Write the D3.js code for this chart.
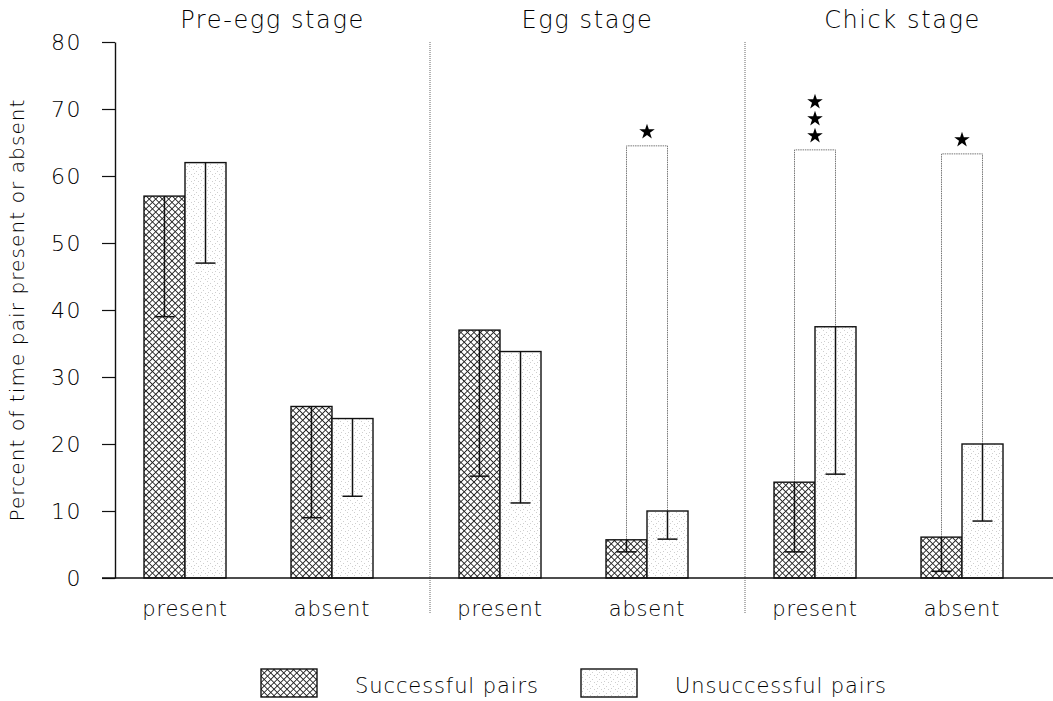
<!DOCTYPE html>
<html>
<head>
<meta charset="utf-8">
<script src="https://cdn.jsdelivr.net/npm/d3@7"></script>
<style>
  body { margin: 0; background: #fff; }
  text { font-family: "DejaVu Sans", sans-serif; font-weight: 200; fill: #000; }
</style>
</head>
<body>
<div id="plot"></div>
<script>
// data
var stages = ["Pre-egg stage", "Egg stage", "Chick stage"];
var conditions = ["present", "absent"];
var series = ["Successful pairs", "Unsuccessful pairs"];
// order: stage x condition (pre present, pre absent, egg present, egg absent, chick present, chick absent)
var successful      = [57, 25.6, 37, 5.7, 14.3, 6.1];
var successfulLow   = [39, 9, 15.2, 3.9, 3.9, 1];
var unsuccessful    = [62, 23.8, 33.8, 10, 37.5, 20];
var unsuccessfulLow = [47, 12.2, 11.2, 5.8, 15.5, 8.5];
var upperRange      = [null, null, null, 64.5, 63.9, 63.3];
var stars           = [0, 0, 0, 1, 3, 1];
var yTicks = [0, 10, 20, 30, 40, 50, 60, 70, 80];

var width = 1053, height = 701;

var svg = d3.select("#plot")
  .append("svg")
    .attr("width", width)
    .attr("height", height);

// patterns
var defs = svg.append("defs");
var hatch = defs.append("pattern")
    .attr("id", "hatch")
    .attr("patternUnits", "userSpaceOnUse")
    .attr("width", 4.6)
    .attr("height", 4.6)
    .attr("patternTransform", "rotate(45)");
hatch.append("rect").attr("width", 4.6).attr("height", 4.6).attr("fill", "#fff");
hatch.append("rect").attr("width", 0.9).attr("height", 4.6).attr("fill", "#222");
hatch.append("rect").attr("width", 4.6).attr("height", 0.9).attr("fill", "#222");

var stipple = defs.append("pattern")
    .attr("id", "stipple")
    .attr("patternUnits", "userSpaceOnUse")
    .attr("width", 7)
    .attr("height", 7);
stipple.append("rect").attr("width", 7).attr("height", 7).attr("fill", "#fff");
[[1, 1], [4, 3], [2, 5], [6, 6]].forEach(function(p) {
  stipple.append("rect").attr("x", p[0]).attr("y", p[1])
    .attr("width", 1).attr("height", 1).attr("fill", "#cfcfcf");
});

// scales
var y = d3.scaleLinear()
    .domain([0, 80])
    .range([578, 42]);

var stageX = d3.scaleBand()
    .domain(stages)
    .range([115, 1060]);

var condX = d3.scalePoint()
    .domain(conditions)
    .range([70, 217]);

var barW = 41;
var seriesX = d3.scaleBand()
    .domain(series)
    .range([-barW, barW]);

var fills = {"Successful pairs": "url(#hatch)", "Unsuccessful pairs": "url(#stipple)"};

// build rows
var rows = [];
stages.forEach(function(s, i) {
  conditions.forEach(function(c, j) {
    var k = i * conditions.length + j;
    rows.push({stage: s, cond: c, cx: stageX(s) + condX(c),
      values: [
        {series: series[0], v: successful[k], low: successfulLow[k]},
        {series: series[1], v: unsuccessful[k], low: unsuccessfulLow[k]}
      ],
      upper: upperRange[k], stars: stars[k]});
  });
});

// stage dividers
svg.append("g")
  .selectAll("line")
  .data(stages.slice(1))
  .enter()
  .append("line")
    .attr("x1", function(d) { return stageX(d); })
    .attr("x2", function(d) { return stageX(d); })
    .attr("y1", y(80))
    .attr("y2", 613)
    .attr("stroke", "#666")
    .attr("stroke-width", 1)
    .attr("stroke-dasharray", "1,1");

// stage titles
svg.append("g")
  .selectAll("text")
  .data(stages)
  .enter()
  .append("text")
    .attr("x", function(d) { return stageX(d) + stageX.bandwidth() / 2; })
    .attr("y", 28)
    .attr("text-anchor", "middle")
    .style("font-size", "24px")
    .style("letter-spacing", "1.6px")
    .text(function(d) { return d; });

// y axis
var yAxis = svg.append("g")
    .attr("transform", "translate(115,0)")
    .call(d3.axisLeft(y).tickValues(yTicks).tickSize(13).tickPadding(20).tickSizeOuter(0));
yAxis.select(".domain").attr("stroke", "#111").attr("stroke-width", 1.4);
yAxis.selectAll(".tick line").attr("stroke", "#111").attr("stroke-width", 1.2);
yAxis.selectAll(".tick text")
    .style("font-size", "22px")
    .style("font-family", "DejaVu Sans, sans-serif")
    .style("font-weight", 200)
    .style("letter-spacing", "1.5px")
    .attr("fill", "#000");

// y label
svg.append("text")
    .attr("transform", "translate(24," + 310 + ") rotate(-90)")
    .attr("text-anchor", "middle")
    .style("font-size", "20px")
    .style("letter-spacing", "1.1px")
    .text("Percent of time pair present or absent");

// upper range outlines (faint)
svg.append("g")
  .selectAll("path")
  .data(rows.filter(function(d) { return d.upper != null; }))
  .enter()
  .append("path")
    .attr("d", function(d) {
      var x0 = d.cx + seriesX(series[0]) + seriesX.bandwidth() / 2;
      var x1 = d.cx + seriesX(series[1]) + seriesX.bandwidth() / 2;
      return "M" + x0 + "," + y(d.values[0].v) + "V" + y(d.upper) + "H" + x1 + "V" + y(d.values[1].v);
    })
    .attr("fill", "none")
    .attr("stroke", "#777")
    .attr("stroke-width", 1)
    .attr("stroke-dasharray", "1.5,0.8");

// bars
var groups = svg.append("g")
  .selectAll("g")
  .data(rows)
  .enter()
  .append("g")
    .attr("transform", function(d) { return "translate(" + d.cx + ",0)"; });

groups.selectAll("rect")
  .data(function(d) { return d.values; })
  .enter()
  .append("rect")
    .attr("x", function(d) { return seriesX(d.series); })
    .attr("y", function(d) { return y(d.v); })
    .attr("width", seriesX.bandwidth())
    .attr("height", function(d) { return y(0) - y(d.v); })
    .attr("fill", function(d) { return fills[d.series]; })
    .attr("stroke", "#111")
    .attr("stroke-width", 1.4);

// error bars (lower)
var err = groups.selectAll("g.err")
  .data(function(d) { return d.values; })
  .enter()
  .append("g")
    .attr("class", "err");
err.append("line")
    .attr("x1", function(d) { return seriesX(d.series) + seriesX.bandwidth() / 2; })
    .attr("x2", function(d) { return seriesX(d.series) + seriesX.bandwidth() / 2; })
    .attr("y1", function(d) { return y(d.v); })
    .attr("y2", function(d) { return y(d.low); })
    .attr("stroke", "#111")
    .attr("stroke-width", 1.5);
err.append("line")
    .attr("x1", function(d) { return seriesX(d.series) + seriesX.bandwidth() / 2 - 10; })
    .attr("x2", function(d) { return seriesX(d.series) + seriesX.bandwidth() / 2 + 10; })
    .attr("y1", function(d) { return y(d.low); })
    .attr("y2", function(d) { return y(d.low); })
    .attr("stroke", "#111")
    .attr("stroke-width", 1.5);

// significance stars
var star = d3.symbol().type(d3.symbolStar).size(75);
groups.filter(function(d) { return d.stars > 0; })
  .selectAll("path.star")
  .data(function(d) { return d3.range(d.stars).map(function(i) { return {i: i, top: d.upper}; }); })
  .enter()
  .append("path")
    .attr("class", "star")
    .attr("d", star)
    .attr("transform", function(d) { return "translate(0," + (y(d.top) - 14 - d.i * 17) + ")"; })
    .attr("fill", "#000");

// baseline
svg.append("line")
    .attr("x1", 102)
    .attr("x2", width)
    .attr("y1", y(0))
    .attr("y2", y(0))
    .attr("stroke", "#111")
    .attr("stroke-width", 1.4);

// condition labels
svg.append("g")
  .selectAll("text")
  .data(rows)
  .enter()
  .append("text")
    .attr("x", function(d) { return d.cx; })
    .attr("y", 616)
    .attr("text-anchor", "middle")
    .style("font-size", "21px")
    .style("letter-spacing", "0.8px")
    .text(function(d) { return d.cond; });

// legend
var legendX = [261, 581];
var legend = svg.append("g")
  .selectAll("g")
  .data(series)
  .enter()
  .append("g")
    .attr("transform", function(d, i) { return "translate(" + legendX[i] + ",669)"; });
legend.append("rect")
    .attr("width", 56)
    .attr("height", 28)
    .attr("fill", function(d) { return fills[d]; })
    .attr("stroke", "#111")
    .attr("stroke-width", 1.4);
legend.append("text")
    .attr("x", 94)
    .attr("y", 24)
    .style("font-size", "21px")
    .style("letter-spacing", "0.9px")
    .text(function(d) { return d; });
</script>
</body>
</html>
